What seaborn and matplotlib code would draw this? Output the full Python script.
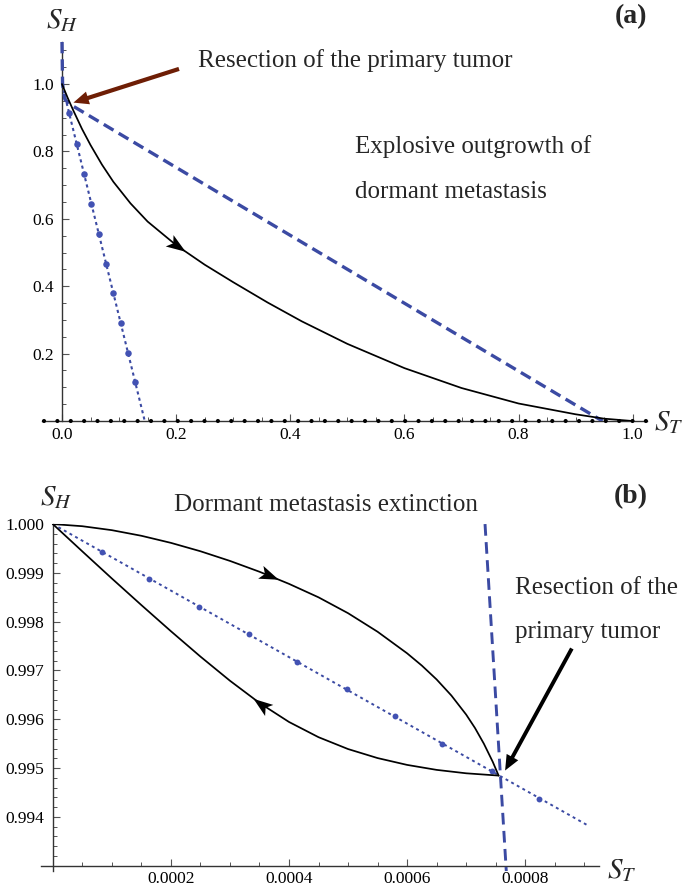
import numpy as np
import matplotlib
matplotlib.use("Agg")
import matplotlib.pyplot as plt
import seaborn as sns
from matplotlib.path import Path
from matplotlib.markers import MarkerStyle
from matplotlib.transforms import Affine2D
from matplotlib.ticker import FixedLocator, FixedFormatter

# ---------------- panel (a) data ----------------
a_traj_x = [0.0, 0.01, 0.02, 0.035, 0.05, 0.07, 0.09, 0.12, 0.15, 0.2, 0.25, 0.3, 0.36,
            0.42, 0.5, 0.6, 0.7, 0.8, 0.9, 0.95, 1.0]
a_traj_y = [1.0, 0.959, 0.921, 0.867, 0.819, 0.761, 0.710, 0.646, 0.592, 0.522, 0.464,
            0.412, 0.352, 0.296, 0.229, 0.157, 0.098, 0.052, 0.020, 0.007, 0.0]
a_sep_x = [0.0, 0.001, 0.005, 0.012, 0.947]
a_sep_y = [1.125, 1.0, 0.955, 0.942, 0.0]
a_null_x = [0.0, 0.145]
a_null_y = [1.0, 0.0]
a_null_dot_x = [0.0125, 0.026, 0.0387, 0.0516, 0.0644, 0.0773, 0.090, 0.1028, 0.1157, 0.1283]
a_null_dot_y = [0.914, 0.821, 0.733, 0.644, 0.556, 0.467, 0.379, 0.291, 0.202, 0.115]
a_axis_null_x = [-0.031, 1.025]
a_axis_null_y = [0.0, 0.0]
a_resect_head = (0.02, 0.945)
a_resect_tail = (0.205, 1.045)
a_arrow_at = (0.2, 0.522)
a_arrow_to = (0.25, 0.464)
a_xticks = [0.0, 0.2, 0.4, 0.6, 0.8, 1.0]
a_xticklabels = ["0.0", "0.2", "0.4", "0.6", "0.8", "1.0"]
a_yticks = [0.2, 0.4, 0.6, 0.8, 1.0]
a_yticklabels = ["0.2", "0.4", "0.6", "0.8", "1.0"]

# ---------------- panel (b) data ----------------
b_up_x = [0.0, 0.00005, 0.0001, 0.00015, 0.0002, 0.00025, 0.0003, 0.00035, 0.0004,
          0.00045, 0.0005, 0.00055, 0.0006, 0.000625, 0.00065, 0.000675, 0.0007,
          0.000715, 0.00073, 0.000745, 0.000755]
b_up_y = [1.0, 0.999956, 0.999875, 0.999760, 0.999615, 0.999443, 0.999245, 0.999023,
          0.998775, 0.998499, 0.998174, 0.997794, 0.997352, 0.9971, 0.996816, 0.996487,
          0.996097, 0.995821, 0.9955, 0.99513, 0.994846]
b_low_x = [0.0, 0.00005, 0.0001, 0.00015, 0.0002, 0.00025, 0.0003, 0.00035, 0.0004,
           0.00045, 0.0005, 0.00055, 0.0006, 0.00065, 0.0007, 0.000755]
b_low_y = [1.0, 0.99944, 0.998885, 0.99834, 0.997805, 0.997285, 0.99679, 0.996335,
           0.995945, 0.995633, 0.99539, 0.995205, 0.995065, 0.994963, 0.994893, 0.994846]
b_sep_x = [0.000732, 0.000768]
b_sep_y = [1.0, 0.99289]
b_null_x = [0.0, 0.000904]
b_null_y = [1.0, 0.993839]
b_null_dot_x = [0.0000840, 0.0001634, 0.0002476, 0.0003319, 0.0004133, 0.0004976,
                0.0005790, 0.0006598, 0.0007434, 0.0008241]
b_null_dot_y = [0.999430, 0.998875, 0.998298, 0.997750, 0.997173, 0.996617,
                0.996076, 0.995492, 0.994950, 0.994360]
b_resect_head = (0.000766, 0.99495)
b_resect_tail = (0.000879, 0.99745)
b_up_arrow_at = (0.000365, 0.99895)
b_up_arrow_to = (0.0004, 0.998775)
b_low_arrow_at = (0.000355, 0.996296)
b_low_arrow_to = (0.0003, 0.99679)
b_xticks = [0.0002, 0.0004, 0.0006, 0.0008]
b_xticklabels = ["0.0002", "0.0004", "0.0006", "0.0008"]
b_yticks = [0.994, 0.995, 0.996, 0.997, 0.998, 0.999, 1.000]
b_yticklabels = ["0.994", "0.995", "0.996", "0.997", "0.998", "0.999", "1.000"]

# ---------------- style ----------------
sns.set_style("ticks")
plt.rcParams["font.family"] = ["Liberation Serif", "DejaVu Serif"]
plt.rcParams["mathtext.fontset"] = "stix"

BLUE = "#3b4aa3"
DOT_BLUE = "#4252b3"
BROWN = "#6e1e05"
AXC = "#333333"
TICKC = "#555555"

fig = plt.figure(figsize=(6.9, 8.89), dpi=100)
axA = fig.add_axes([0.0609, 0.5264, 0.8768, 0.4264])
axB = fig.add_axes([0.0594, 0.0202, 0.8087, 0.3903])

head_path = Path([(1.0, 0.0), (-0.75, 0.62), (-0.35, 0.0), (-0.75, -0.62), (1.0, 0.0)],
                 [Path.MOVETO, Path.LINETO, Path.LINETO, Path.LINETO, Path.CLOSEPOLY])


def curve_head(ax, at, toward, size=16):
    p0 = ax.transData.transform(at)
    p1 = ax.transData.transform(toward)
    ang = np.degrees(np.arctan2(p1[1] - p0[1], p1[0] - p0[0]))
    m = MarkerStyle(head_path, transform=Affine2D().rotate_deg(ang))
    ax.plot([at[0]], [at[1]], marker=m, markersize=size, color="black",
            markeredgewidth=0, linestyle="none", zorder=7, clip_on=False)


def style_axes(ax, x0, y0):
    for s in ["top", "right"]:
        ax.spines[s].set_visible(False)
    ax.spines["left"].set_position(("data", x0))
    ax.spines["bottom"].set_position(("data", y0))
    for s in ["left", "bottom"]:
        ax.spines[s].set_color(AXC)
        ax.spines[s].set_linewidth(1.0)
    ax.tick_params(which="major", direction="in", length=5, width=0.8, color=TICKC,
                   labelsize=12.5, labelcolor="black")
    ax.tick_params(which="minor", direction="in", length=2.8, width=0.7, color=TICKC)
    ax.tick_params(axis="y", which="major", pad=6)
    ax.tick_params(axis="x", which="major", pad=4)
    ax.set_xlabel("")
    ax.set_ylabel("")


# ================= panel (a) =================
ax = axA
ax.set_xlim(-0.035, 1.025)
ax.set_ylim(0.0, 1.125)
style_axes(ax, 0.0, 0.0)
ax.xaxis.set_major_locator(FixedLocator(a_xticks))
ax.xaxis.set_major_formatter(FixedFormatter(a_xticklabels))
ax.xaxis.set_minor_locator(FixedLocator([v / 100 for v in range(5, 100, 5)]))
ax.yaxis.set_major_locator(FixedLocator(a_yticks))
ax.yaxis.set_major_formatter(FixedFormatter(a_yticklabels))
ax.yaxis.set_minor_locator(FixedLocator([v / 100 for v in range(5, 115, 5)]))

# S_H = 0 nullcline along the axis (dotted with dots)
ax.plot(a_axis_null_x, a_axis_null_y, color="black", lw=3.0,
        linestyle=(0, (0.01, 3.2)), dash_capstyle="round", clip_on=False, zorder=4)

sns.lineplot(x=a_null_x, y=a_null_y, ax=ax, color=BLUE, lw=1.5,
             linestyle=(0, (1.5, 1.6)), sort=False, estimator=None, zorder=3)
sns.scatterplot(x=a_null_dot_x, y=a_null_dot_y, ax=ax, color=DOT_BLUE, s=22,
                linewidth=0, zorder=3)
sns.lineplot(x=a_sep_x, y=a_sep_y, ax=ax, color=BLUE, lw=2.4,
             linestyle=(0, (3.4, 1.8)), sort=False, estimator=None, zorder=3)
sns.lineplot(x=a_traj_x, y=a_traj_y, ax=ax, color="black", lw=1.25,
             sort=False, estimator=None, zorder=5)
curve_head(ax, a_arrow_at, a_arrow_to)

ax.annotate("", xy=a_resect_head, xytext=a_resect_tail,
            arrowprops=dict(arrowstyle="simple,head_length=1.1,head_width=0.95,tail_width=0.3",
                            color=BROWN, mutation_scale=10, shrinkA=0, shrinkB=0, lw=0),
            annotation_clip=False, zorder=8)

ax.text(0.238, 1.07, "Resection of the primary tumor", fontsize=18,
        ha="left", va="center", clip_on=False)
ax.text(0.513, 0.816, "Explosive outgrowth of", fontsize=18, ha="left", va="center")
ax.text(0.513, 0.680, "dormant metastasis", fontsize=18, ha="left", va="center")
ax.text(0.0, 1.187, r"$S_H$", fontsize=21, ha="center", va="center", clip_on=False)
ax.text(1.038, -0.004, r"$S_T$", fontsize=21, ha="left", va="center", clip_on=False)

# ================= panel (b) =================
ax = axB
ax.set_xlim(-0.00002, 0.000925)
ax.set_ylim(0.99289, 1.0)
style_axes(ax, 0.0, 0.993)
ax.xaxis.set_major_locator(FixedLocator(b_xticks))
ax.xaxis.set_major_formatter(FixedFormatter(b_xticklabels))
ax.xaxis.set_minor_locator(FixedLocator([k * 0.00005 for k in range(1, 19)]))
ax.yaxis.set_major_locator(FixedLocator(b_yticks))
ax.yaxis.set_major_formatter(FixedFormatter(b_yticklabels))
ax.yaxis.set_minor_locator(FixedLocator([0.993 + k * 0.0002 for k in range(1, 35)]))

sns.lineplot(x=b_null_x, y=b_null_y, ax=ax, color=BLUE, lw=1.4,
             linestyle=(0, (1.5, 1.8)), sort=False, estimator=None, zorder=3)
sns.scatterplot(x=b_null_dot_x, y=b_null_dot_y, ax=ax, color=DOT_BLUE, s=18,
                linewidth=0, zorder=3)
sns.lineplot(x=b_sep_x, y=b_sep_y, ax=ax, color=BLUE, lw=2.1,
             linestyle=(0, (4.0, 2.2)), sort=False, estimator=None, zorder=3)
ax.lines[-1].set_clip_on(False)
sns.lineplot(x=b_up_x, y=b_up_y, ax=ax, color="black", lw=1.25,
             sort=False, estimator=None, zorder=5)
sns.lineplot(x=b_low_x, y=b_low_y, ax=ax, color="black", lw=1.25,
             sort=False, estimator=None, zorder=5)
curve_head(ax, b_up_arrow_at, b_up_arrow_to)
curve_head(ax, b_low_arrow_at, b_low_arrow_to)

ax.annotate("", xy=b_resect_head, xytext=b_resect_tail,
            arrowprops=dict(arrowstyle="simple,head_length=1.1,head_width=0.95,tail_width=0.28",
                            color="black", mutation_scale=10, shrinkA=0, shrinkB=0, lw=0),
            annotation_clip=False, zorder=8)

ax.text(0.000206, 1.0004, "Dormant metastasis extinction", fontsize=18,
        ha="left", va="center", clip_on=False)
ax.text(0.000783, 0.99868, "Resection of the", fontsize=18, ha="left", va="center")
ax.text(0.000783, 0.99779, "primary tumor", fontsize=18, ha="left", va="center")
ax.text(0.000005, 1.00055, r"$S_H$", fontsize=21, ha="center", va="center", clip_on=False)
ax.text(0.000939, 0.9929, r"$S_T$", fontsize=21, ha="left", va="center", clip_on=False)

fig.text(0.9145, 0.981, "(a)", fontsize=20, fontweight="bold", ha="center", va="center")
fig.text(0.9145, 0.441, "(b)", fontsize=20, fontweight="bold", ha="center", va="center")

fig.savefig("out.png", dpi=100)
